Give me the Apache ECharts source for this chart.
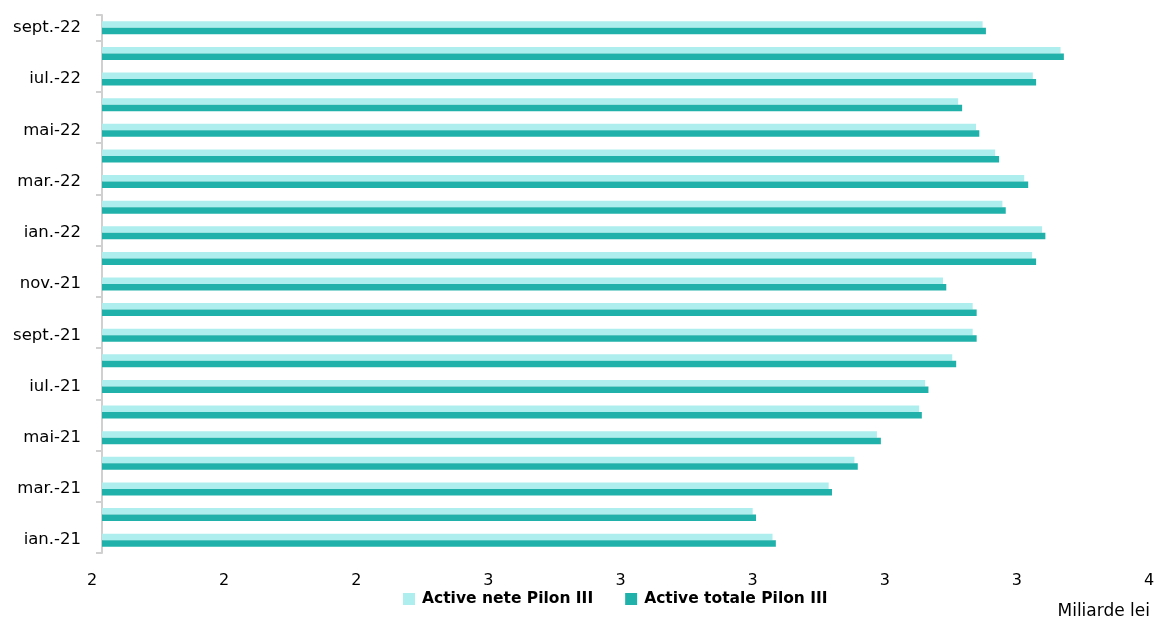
<!DOCTYPE html>
<html>
<head>
<meta charset="utf-8">
<script src="https://cdn.jsdelivr.net/npm/echarts@6/dist/echarts.min.js"></script>
<style>
    html, body { margin: 0; padding: 0; background: #fff; }
    #main { width: 1156px; height: 621px; }
</style>
</head>
<body>
<div id="main"></div>
<script>
var months = ['ian.-21', 'feb.-21', 'mar.-21', 'apr.-21', 'mai-21', 'iun.-21', 'iul.-21', 'aug.-21', 'sept.-21', 'oct.-21', 'nov.-21', 'dec.-21',
    'ian.-22', 'feb.-22', 'mar.-22', 'apr.-22', 'mai-22', 'iun.-22', 'iul.-22', 'aug.-22', 'sept.-22'];
var activeNete = [3.015, 2.985, 3.100, 3.139, 3.173, 3.237, 3.246, 3.287, 3.318, 3.318, 3.273, 3.408,
    3.423, 3.363, 3.396, 3.352, 3.323, 3.296, 3.409, 3.451, 3.333];
var activeTotale = [3.020, 2.990, 3.105, 3.144, 3.179, 3.241, 3.251, 3.293, 3.324, 3.324, 3.278, 3.414,
    3.428, 3.368, 3.402, 3.358, 3.328, 3.302, 3.414, 3.456, 3.338];
var seriesNames = ['Active nete Pilon III', 'Active totale Pilon III'];

var font = 'DejaVu Sans';

drawChart();

function drawChart() {
    var dom = document.getElementById('main');
    var myChart = echarts.init(dom, null, {
        renderer: 'canvas',
        useDirtyRect: false
    });

    var option = {
        animation: false,
        textStyle: { fontFamily: font },
        grid: {
            left: 102,
            top: 15,
            width: 1057,
            bottom: 68,
            containLabel: false,
            outerBoundsMode: 'none'
        },
        legend: {
            data: seriesNames,
            left: 398,
            top: 586,
            itemWidth: 12,
            itemHeight: 12,
            itemGap: 32,
            itemStyle: { borderWidth: 0 },
            icon: 'rect',
            textStyle: {
                fontFamily: font,
                fontSize: 15.5,
                fontWeight: 'bold',
                color: '#000',
                padding: [0, 0, 0, 2]
            }
        },
        xAxis: {
            type: 'value',
            min: 2,
            max: 3.6,
            interval: 0.2,
            axisLine: { show: false },
            axisTick: { show: false },
            splitLine: { show: false },
            axisLabel: {
                margin: 20,
                fontSize: 16,
                color: '#000',
                padding: [0, 20, 0, 0],
                showMinLabel: true,
                showMaxLabel: true,
                formatter: function (v) {
                    return Math.round(v).toString();
                }
            }
        },
        yAxis: {
            type: 'category',
            data: months,
            axisLine: { lineStyle: { color: '#d0d0d0', width: 2 } },
            axisTick: {
                show: true,
                interval: 1,
                length: 6,
                lineStyle: { color: '#d0d0d0', width: 2 }
            },
            axisLabel: {
                interval: 1,
                margin: 21,
                fontSize: 16.5,
                color: '#000'
            }
        },
        series: [
            {
                name: seriesNames[0],
                type: 'bar',
                data: activeNete,
                barWidth: 6.5,
                barGap: '0%',
                itemStyle: { color: '#afeeee' }
            },
            {
                name: seriesNames[1],
                type: 'bar',
                data: activeTotale,
                barWidth: 6.5,
                itemStyle: { color: '#20b2aa' }
            }
        ],
        graphic: [
            {
                type: 'text',
                right: 6,
                top: 603,
                style: {
                    text: 'Miliarde lei',
                    font: '17px "' + font + '"',
                    fill: '#000'
                }
            }
        ]
    };

    myChart.setOption(option);
    window.addEventListener('resize', myChart.resize);
}
</script>
</body>
</html>
